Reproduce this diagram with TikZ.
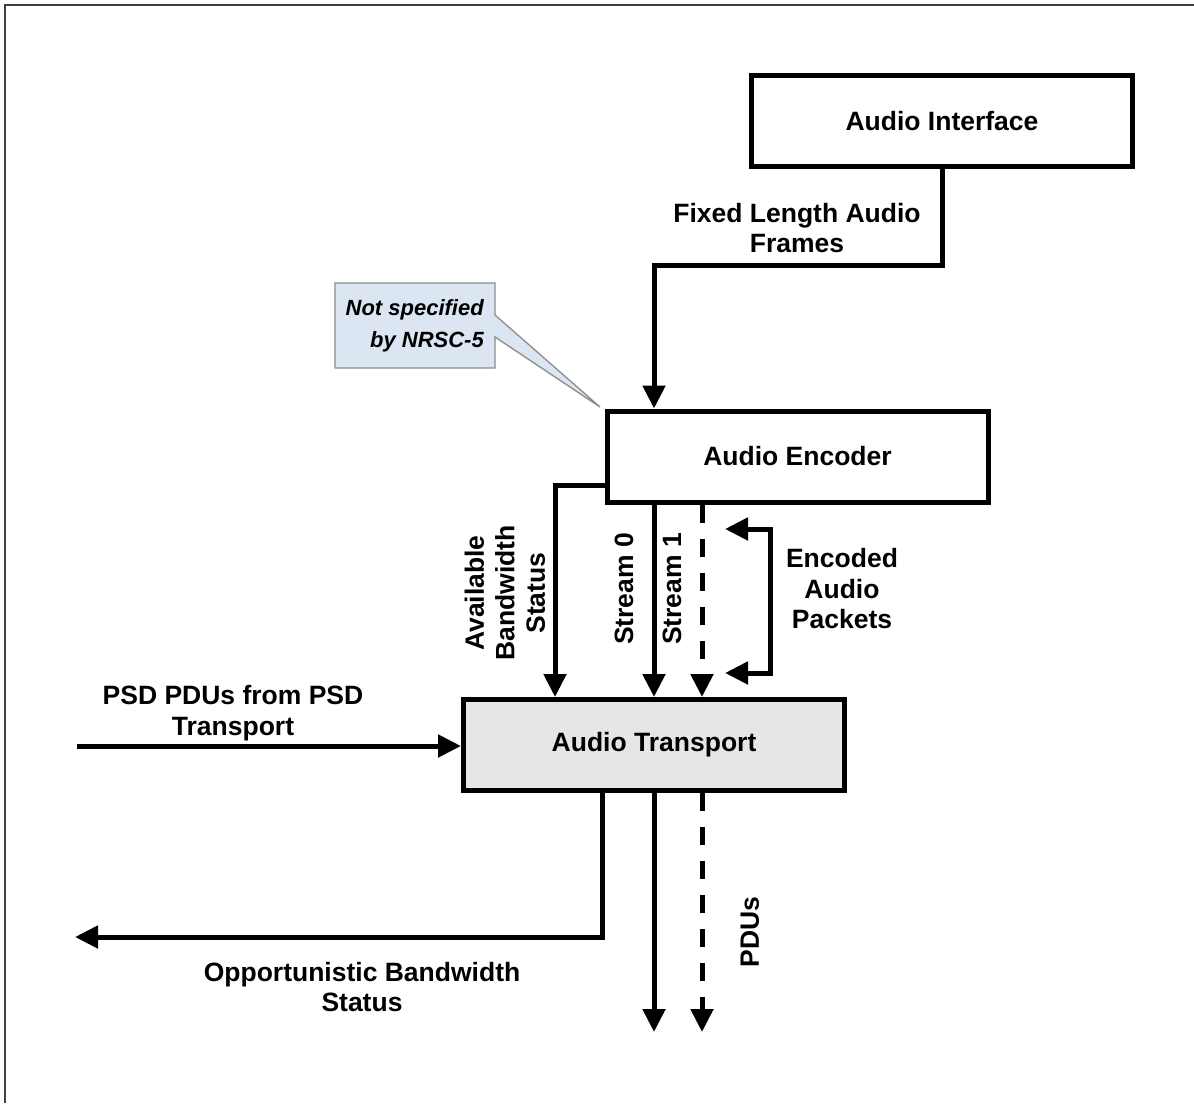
\documentclass[tikz,border=0pt]{standalone}
\usepackage{fontspec}
\setmainfont{Liberation Sans}
\usetikzlibrary{arrows.meta}
\definecolor{calloutfill}{HTML}{DCE6F3}
\definecolor{calloutdraw}{HTML}{8C8C8C}
\definecolor{transfill}{HTML}{E6E6E6}
\begin{document}
\begin{tikzpicture}[x=1pt,y=-1pt,
  txt/.style={font=\fontsize{26.5}{30.5}\selectfont\bfseries, align=center, inner sep=0pt},
  itxt/.style={font=\fontsize{22}{32}\selectfont\bfseries\itshape, align=right, inner sep=0pt},
  blockbox/.style={draw, line width=5pt, minimum width=381pt, minimum height=91pt, inner sep=0pt,
                   font=\fontsize{26.5}{30.5}\selectfont\bfseries},
  conn/.style={line width=5pt, line join=miter},
  arr/.style={conn, -{Triangle[length=23pt,width=22pt]}},
  dasharr/.style={arr, dash pattern=on 18pt off 16pt},
  dbl/.style={conn, {Triangle[length=23pt,width=22pt]}-{Triangle[length=23pt,width=22pt]}}
]
\useasboundingbox (0,0) rectangle (1194,1103);
% outer frame
\draw[line width=2pt, black!75] (5,1103) -- (5,5) -- (1194,5);

% blocks
\node[blockbox] (ai) at (942,121) {Audio Interface};
\node[blockbox] (enc) at (797.5,456.5) {Audio Encoder};
\node[blockbox, fill=transfill] (tr) at (654,745) {Audio Transport};

% callout
\draw[calloutdraw, fill=calloutfill, line width=1.3pt, line join=miter]
  (335,283) -- (495,283) -- (495,315) -- (600,407) -- (495,337) -- (495,368) -- (335,368) -- cycle;
\node[itxt, anchor=east] (note) at (484,326) {Not specified\\by NRSC-5};

% x positions for vertical connectors
\coordinate (xai) at (942,0);
\coordinate (xs0) at (654,0);
\coordinate (xs1) at (702,0);
\coordinate (xab) at (555,0);
\coordinate (xob) at (602,0);
\coordinate (bend1) at (654,265);
\coordinate (bend1r) at (942,265);

% Audio Interface -> Audio Encoder
\draw[arr] (xai |- ai.south) -- (bend1r) -- (bend1) -- (xs0 |- enc.north);
\node[txt] (lfixed) at (797,228) {Fixed Length Audio\\Frames};

% Encoder -> Transport
\coordinate (abstart) at (605,485);
\draw[arr] (enc.west |- abstart) -- (xab |- abstart) -- (xab |- tr.north);
\draw[arr] (xs0 |- enc.south) -- (xs0 |- tr.north);
\draw[dasharr] (xs1 |- enc.south) -- (xs1 |- tr.north);

\node[txt, rotate=90] (lavail) at (505,593) {Available\\Bandwidth\\Status};
\node[txt, rotate=90] (ls0) at (624,589) {Stream 0};
\node[txt, rotate=90] (ls1) at (672,589) {Stream 1};

% Encoded audio packets bracket
\coordinate (ea1) at (725,529);
\coordinate (ea2) at (770,529);
\coordinate (ea3) at (770,673);
\coordinate (ea4) at (725,673);
\draw[dbl] (ea1) -- (ea2) -- (ea3) -- (ea4);
\node[txt] (lenc) at (842,589) {Encoded\\Audio\\Packets};

% PSD PDUs input
\coordinate (psdin) at (77,746);
\draw[arr] (psdin) -- (tr.west |- psdin);
\node[txt] (lpsd) at (233,713) {PSD PDUs from PSD\\Transport};

% Outputs
\coordinate (obend) at (602,937);
\coordinate (oend) at (75,937);
\coordinate (pend0) at (654,1032);
\coordinate (pend1) at (702,1032);
\draw[arr] (xob |- tr.south) -- (obend) -- (oend);
\draw[arr] (xs0 |- tr.south) -- (pend0);
\draw[dasharr] (xs1 |- tr.south) -- (pend1);
\node[txt] (lopp) at (362,987) {Opportunistic Bandwidth\\Status};
\node[txt, rotate=90] (lpdu) at (750,932) {PDUs};
\end{tikzpicture}
\end{document}
